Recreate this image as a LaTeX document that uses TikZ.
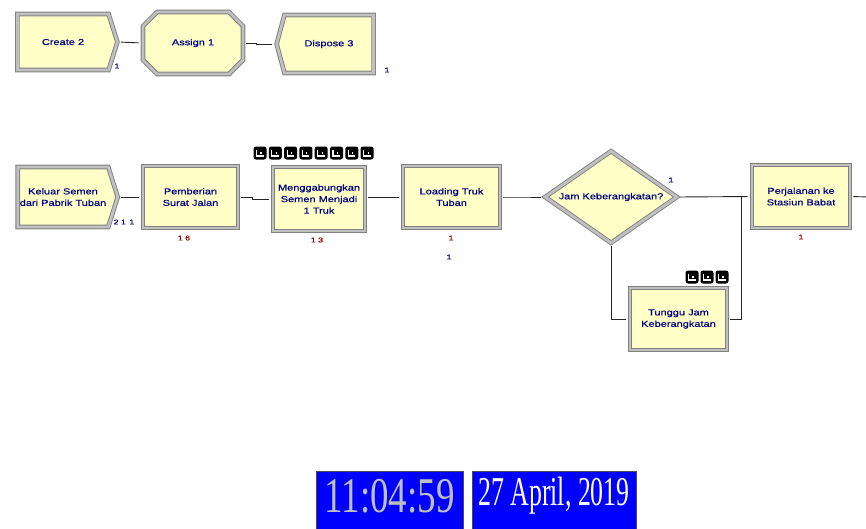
\documentclass[tikz,border=0pt]{standalone}
\usepackage{fontspec}
\setmainfont{Liberation Serif}
\newfontfamily\modfont[FakeStretch=1.28, FakeBold=0.6]{Liberation Sans}
\usetikzlibrary{shapes.geometric,shapes.misc,shapes.symbols}

\definecolor{modfill}{RGB}{255,255,200}
\definecolor{modedge}{RGB}{128,128,128}
\definecolor{modband}{RGB}{192,192,192}
\definecolor{modtext}{RGB}{0,0,128}
\definecolor{cntred}{RGB}{150,0,0}
\definecolor{clockblue}{RGB}{0,0,255}

\tikzset{
  module/.style={draw=modedge, double=modband, double distance=2.8pt, line width=0.9pt,
    fill=modfill, inner sep=1pt, align=center, font=\modfont\fontsize{8.6}{11.5}\selectfont,
    text=modtext},
  procbox/.style={module, rectangle, minimum width=#1, minimum height=62},
  createbox/.style={module, signal, signal to=east, signal pointer angle=145,
    minimum width=100, minimum height=56},
  disposebox/.style={module, signal, signal to=west,
    signal pointer angle=150, minimum width=97, minimum height=58},
  assignbox/.style={module, chamfered rectangle, chamfered rectangle xsep=9pt,
    chamfered rectangle ysep=9pt, minimum width=100, minimum height=62},
  decidebox/.style={module, diamond, aspect=1.43, minimum width=132, minimum height=92, inner sep=0pt},
  conn/.style={draw=black!85, line width=0.9pt, shorten <=3pt, shorten >=4pt},
  cntblue/.style={font=\modfont\fontsize{7}{7}\selectfont, text=modtext, inner sep=0pt},
  cntr/.style={font=\modfont\fontsize{7}{7}\selectfont, text=cntred, inner sep=0pt},
  clockbox/.style={draw=black!70, line width=0.8pt, fill=clockblue, inner sep=0pt},
  ent/.style={fill=black, rounded corners=2.5pt, minimum width=13, minimum height=13, inner sep=0pt},
}

\newcommand{\entity}[2]{%
  \node[ent] at (#1,#2) {};
  \draw[white, line width=1.1pt] (#1-3.5,#2-3) -- (#1-3.5,#2+3) -- (#1+3.5,#2+3);
  \draw[white, line width=1.1pt] (#1+1,#2+1) -- (#1+1,#2-1.5);
}

\begin{document}
\begin{tikzpicture}[x=1pt, y=-1pt]
\useasboundingbox (0,0) rectangle (866,528);
\clip (0,0) rectangle (866,528);

% ---- first row: Create / Assign / Dispose
\node[createbox] (create) at (63,42) {Create 2};
\node[assignbox] (assign) at (193,43) {Assign 1};
\node[disposebox] (dispose) at (329,44) {Dispose 3};
\draw[conn] (create.east) -- (assign.west);
\draw[conn] (assign.east) -- +(13,0) |- (dispose.west);
\node[cntblue] (c1) at (117,66) {1};
\node[cntblue] (c2) at (387,70) {1};

% ---- second row: main flow
\node[createbox, minimum height=60] (keluar) at (63,197) {Keluar Semen\\dari Pabrik Tuban};
\node[procbox=95] (pemb) at (190.5,197) {Pemberian\\Surat Jalan};
\node[procbox=92, minimum height=64] (batch) at (319,199) {Menggabungkan\\Semen Menjadi\\1 Truk};
\node[procbox=97] (load) at (451.5,197) {Loading Truk\\Tuban};
\node[decidebox] (decide) at (611,197) {Jam Keberangkatan?};
\node[procbox=97] (tunggu) at (678.5,319) {Tunggu Jam\\Keberangkatan};
\node[procbox=98, minimum height=63] (jalan) at (801,196.5) {Perjalanan ke\\Stasiun Babat};

\coordinate (join) at (741,197);
\coordinate (out) at (870,197);

\draw[conn] (keluar.east) -- (pemb.west);
\draw[conn] (pemb.east) -- +(14,0) |- (batch.west);
\draw[conn] (batch.east |- load.west) -- (load.west);
\draw[conn] (load.east) -- +(20,0) |- (decide.west);
\draw[conn] (decide.east) -- (jalan.west);
\draw[conn] (decide.south) |- (tunggu.west);
\draw[conn, shorten >=0pt] (tunggu.east) -| (join);
\draw[conn, shorten >=0pt] (jalan.east) -- (out);

% counters
\node[cntblue] (k1) at (124,222) {2\,\,1\,\,\,1};
\node[cntr] (p1) at (184,238) {1\,\,6};
\node[cntr] (b1) at (317,240) {1\,\,3};
\node[cntr] (l1) at (451,238) {1};
\node[cntblue] (l2) at (449,257) {1};
\node[cntblue] (d1) at (671,180) {1};
\node[cntr] (j1) at (801,237) {1};

% queued entities
\foreach \i in {0,...,7} { \entity{260+15.3*\i}{153} }
\foreach \i in {0,1,2} { \entity{692+15*\i}{277} }

% clock and date
\node[clockbox, minimum width=147, minimum height=66] (time) at (389.5,504) {};
\node[clockbox, minimum width=164, minimum height=66] (date) at (554,504) {};
\node[text=black!25, font=\fontsize{50}{50}\selectfont, inner sep=0pt] (timetxt) at (389.5,496)
  {\scalebox{0.74}[1]{11:04:59}};
\node[text=white, font=\fontsize{41}{41}\selectfont, inner sep=0pt] (datetxt) at (554,496)
  {\scalebox{0.63}[1]{27 April, 2019}};
\end{tikzpicture}
\end{document}
